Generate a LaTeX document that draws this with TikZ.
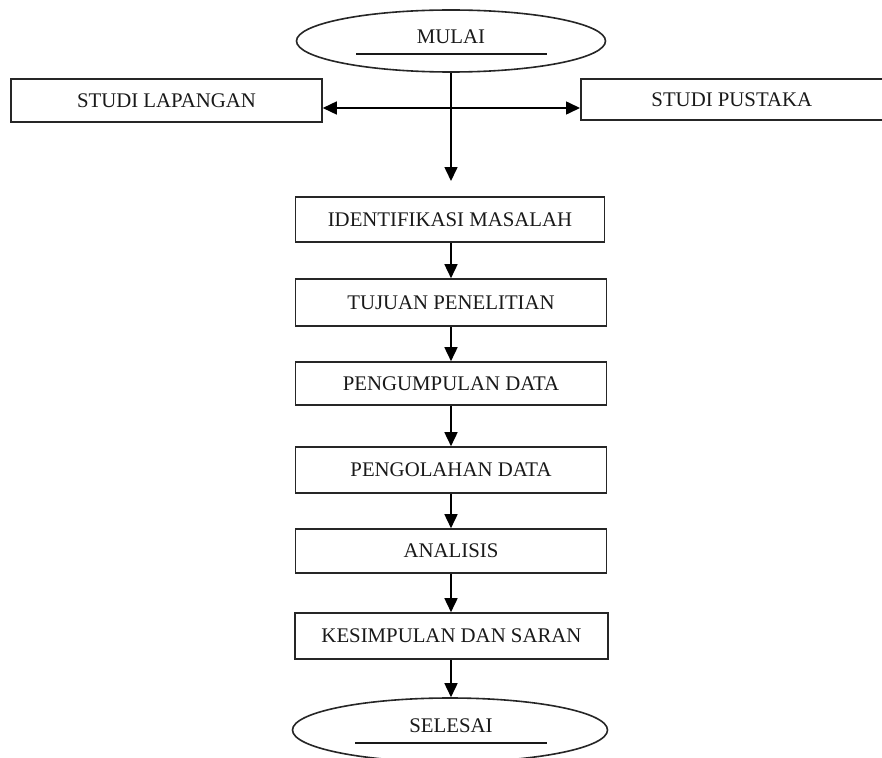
\documentclass[tikz,border=0pt]{standalone}
\usepackage{fontspec}
\setmainfont{Liberation Serif}
\usetikzlibrary{arrows.meta,shapes.geometric}
\begin{document}
\begin{tikzpicture}[x=1pt,y=-1pt,
  every node/.style={font=\fontsize{20.8}{23}\selectfont, text=black!90},
  boxnode/.style={draw=black!85, line width=1.6pt, rectangle, inner sep=0pt},
  ovalnode/.style={draw=black!85, line width=1.6pt, ellipse, inner sep=0pt},
  conn/.style={draw=black, line width=1.6pt, -{Triangle[length=14pt,width=13pt]}},
  dconn/.style={draw=black, line width=1.6pt, {Triangle[length=14pt,width=13pt]}-{Triangle[length=14pt,width=13pt]}},
  bar/.style={draw=black!90, line width=1.6pt}
]
\useasboundingbox[fill=white] (0,0) rectangle (882,757);
% start / end ovals
\node[ovalnode, minimum width=309pt, minimum height=62pt] (mulai) at (451,41) {};
\node (mulaitxt) at (451,37) {MULAI};
\coordinate (mb1) at (356,54);
\coordinate (mb2) at (547,54);
\draw[bar] (mb1) -- (mb2);

\node[ovalnode, minimum width=315pt, minimum height=64pt] (selesai) at (450,730) {};
\node (selesaitxt) at (451,726) {SELESAI};
\coordinate (sb1) at (355,743);
\coordinate (sb2) at (547,743);
\draw[bar] (sb1) -- (sb2);

% side boxes
\node[boxnode, minimum width=311pt, minimum height=43pt] (lap) at (166.5,100.5) {STUDI LAPANGAN};
\node[boxnode, minimum width=302pt, minimum height=41pt, anchor=west] (pus) at (580,99.5) {\hspace*{2pt}STUDI PUSTAKA\hspace*{2pt}};

% main column
\node[boxnode, minimum width=309pt, minimum height=45pt] (ident) at (450,219.5) {IDENTIFIKASI MASALAH};
\node[boxnode, minimum width=311pt, minimum height=47pt] (tujuan) at (451,302.5) {TUJUAN PENELITIAN};
\node[boxnode, minimum width=311pt, minimum height=43pt] (kumpul) at (451,383.5) {PENGUMPULAN DATA};
\node[boxnode, minimum width=311pt, minimum height=46pt] (olah) at (451,470) {PENGOLAHAN DATA};
\node[boxnode, minimum width=311pt, minimum height=44pt] (analisis) at (451,551) {ANALISIS};
\node[boxnode, minimum width=313pt, minimum height=46pt] (simpul) at (451.5,636) {KESIMPULAN DAN SARAN};

% connectors
\coordinate (split) at (451,108);
\coordinate (downend) at (451,181);
\coordinate (leftend) at (lap.east |- split);
\coordinate (rightend) at (pus.west |- split);
\draw[line width=1.6pt] (mulai.south) -- (split);
\draw[conn] (split) -- (downend);
\draw[dconn] (leftend) -- (rightend);

\draw[conn] (ident.south -| 451,0) -- (tujuan.north -| 451,0);
\draw[conn] (tujuan.south) -- (kumpul.north);
\draw[conn] (kumpul.south) -- (olah.north);
\draw[conn] (olah.south) -- (analisis.north);
\draw[conn] (analisis.south) -- (simpul.north -| analisis.south);
\draw[conn] (simpul.south -| analisis.south) -- (selesai.north -| analisis.south);
\end{tikzpicture}
\end{document}
